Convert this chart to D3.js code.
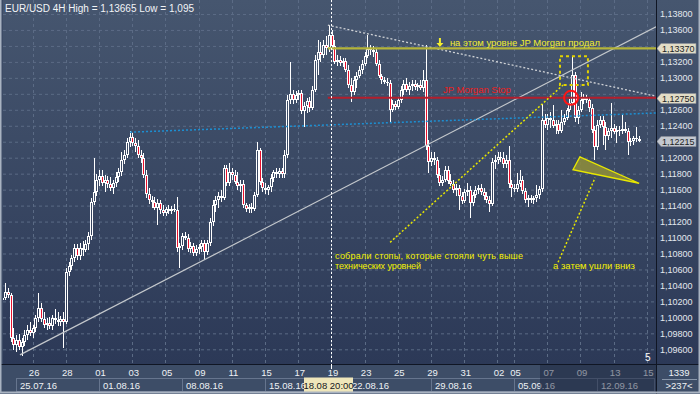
<!DOCTYPE html>
<html>
<head>
<meta charset="utf-8">
<script src="https://cdn.jsdelivr.net/npm/d3@7"></script>
<style>
body { margin: 0; background: #3a4862; }
svg { display: block; font-family: "Liberation Sans", Arial, sans-serif; }
</style>
</head>
<body>
<svg id="chart"></svg>
<script>
var svg_width = 700;
var svg_height = 394;
var plotLeft = 3, plotRight = 656, plotBottom = 364;

// EUR/USD 4H bars, Fri 22.07.16 00:00 .. Wed 14.09.16 08:00, [open, high, low, close]
var bars = [
  [1.1022,1.1027,1.1014,1.1024],[1.1024,1.1043,1.1022,1.1032],[1.1032,1.1037,1.1024,1.1028],[1.1028,1.1030,1.0969,1.0974],[1.0974,1.0987,1.0959,1.0965],[1.0965,1.0978,1.0957,1.0972],
  [1.0972,1.0979,1.0959,1.0963],[1.0963,1.0974,1.0952,1.0969],[1.0969,1.0984,1.0964,1.0978],[1.0978,1.0990,1.0972,1.0984],[1.0984,1.0994,1.0977,1.0980],[1.0980,1.0990,1.0974,1.0987],
  [1.0987,1.1003,1.0982,1.0999],[1.0999,1.1030,1.0994,1.1012],[1.1012,1.1018,1.0994,1.0998],[1.0998,1.1007,1.0987,1.0990],[1.0990,1.0999,1.0984,1.0993],[1.0993,1.1000,1.0985,1.0989],
  [1.0989,1.1003,1.0984,1.0999],[1.0999,1.1010,1.0992,1.0997],[1.0997,1.1007,1.0989,1.0994],[1.0994,1.1002,1.0989,1.0998],[1.0998,1.1007,1.0962,1.0994],[1.0994,1.1062,1.0992,1.1057],
  [1.1057,1.1069,1.1052,1.1064],[1.1064,1.1078,1.1059,1.1074],[1.1074,1.1092,1.1069,1.1087],[1.1087,1.1092,1.1072,1.1077],[1.1077,1.1093,1.1072,1.1087],[1.1087,1.1096,1.1077,1.1084],
  [1.1084,1.1097,1.1082,1.1092],[1.1092,1.1107,1.1084,1.1102],[1.1102,1.1149,1.1097,1.1144],[1.1144,1.1200,1.1141,1.1157],[1.1157,1.1180,1.1152,1.1172],[1.1172,1.1185,1.1165,1.1177],
  [1.1177,1.1185,1.1165,1.1168],[1.1168,1.1178,1.1157,1.1172],[1.1172,1.1177,1.1162,1.1167],[1.1167,1.1176,1.1158,1.1162],[1.1162,1.1172,1.1154,1.1168],[1.1168,1.1182,1.1163,1.1176],
  [1.1176,1.1187,1.1170,1.1182],[1.1182,1.1207,1.1177,1.1197],[1.1197,1.1210,1.1192,1.1203],[1.1203,1.1225,1.1200,1.1220],[1.1220,1.1233,1.1213,1.1226],[1.1226,1.1231,1.1215,1.1218],
  [1.1218,1.1225,1.1207,1.1215],[1.1215,1.1222,1.1200,1.1203],[1.1203,1.1210,1.1193,1.1200],[1.1200,1.1206,1.1175,1.1178],[1.1178,1.1185,1.1149,1.1154],[1.1154,1.1162,1.1142,1.1147],
  [1.1147,1.1152,1.1137,1.1144],[1.1144,1.1151,1.1134,1.1137],[1.1137,1.1148,1.1116,1.1143],[1.1143,1.1147,1.1129,1.1134],[1.1134,1.1141,1.1127,1.1131],[1.1131,1.1138,1.1127,1.1136],
  [1.1136,1.1141,1.1129,1.1133],[1.1133,1.1139,1.1129,1.1136],[1.1136,1.1142,1.1132,1.1134],[1.1134,1.1151,1.1082,1.1087],[1.1087,1.1093,1.1062,1.1089],[1.1089,1.1106,1.1084,1.1102],
  [1.1102,1.1107,1.1097,1.1099],[1.1099,1.1104,1.1082,1.1086],[1.1086,1.1094,1.1081,1.1089],[1.1089,1.1093,1.1077,1.1081],[1.1081,1.1091,1.1077,1.1086],[1.1086,1.1092,1.1079,1.1088],
  [1.1088,1.1097,1.1082,1.1093],[1.1093,1.1097,1.1072,1.1082],[1.1082,1.1097,1.1078,1.1093],[1.1093,1.1124,1.1089,1.1119],[1.1119,1.1147,1.1114,1.1141],[1.1141,1.1152,1.1132,1.1147],
  [1.1147,1.1157,1.1137,1.1152],[1.1152,1.1159,1.1144,1.1149],[1.1149,1.1191,1.1147,1.1187],[1.1187,1.1191,1.1165,1.1168],[1.1168,1.1193,1.1165,1.1182],[1.1182,1.1187,1.1172,1.1178],
  [1.1178,1.1185,1.1167,1.1170],[1.1170,1.1182,1.1159,1.1165],[1.1165,1.1172,1.1157,1.1167],[1.1167,1.1172,1.1137,1.1141],[1.1141,1.1143,1.1132,1.1136],[1.1136,1.1142,1.1131,1.1138],
  [1.1138,1.1143,1.1131,1.1136],[1.1136,1.1157,1.1133,1.1153],[1.1153,1.1220,1.1151,1.1210],[1.1210,1.1212,1.1166,1.1170],[1.1170,1.1175,1.1157,1.1162],[1.1162,1.1168,1.1154,1.1159],
  [1.1159,1.1166,1.1153,1.1163],[1.1163,1.1180,1.1157,1.1175],[1.1175,1.1185,1.1170,1.1182],[1.1182,1.1187,1.1175,1.1180],[1.1180,1.1187,1.1175,1.1183],[1.1183,1.1187,1.1175,1.1180],
  [1.1180,1.1210,1.1175,1.1203],[1.1203,1.1278,1.1200,1.1272],[1.1272,1.1320,1.1267,1.1280],[1.1280,1.1285,1.1267,1.1272],[1.1272,1.1284,1.1268,1.1278],[1.1278,1.1285,1.1272,1.1281],
  [1.1281,1.1285,1.1255,1.1258],[1.1258,1.1270,1.1238,1.1265],[1.1265,1.1275,1.1256,1.1271],[1.1271,1.1276,1.1257,1.1262],[1.1262,1.1290,1.1260,1.1285],[1.1285,1.1329,1.1282,1.1322],
  [1.1322,1.1347,1.1304,1.1332],[1.1332,1.1345,1.1320,1.1329],[1.1329,1.1347,1.1325,1.1341],[1.1341,1.1352,1.1329,1.1337],[1.1337,1.1366,1.1332,1.1354],[1.1354,1.1360,1.1335,1.1340],
  [1.1340,1.1347,1.1317,1.1320],[1.1320,1.1329,1.1315,1.1322],[1.1322,1.1327,1.1315,1.1319],[1.1319,1.1325,1.1314,1.1321],[1.1321,1.1325,1.1307,1.1310],[1.1310,1.1316,1.1287,1.1291],
  [1.1291,1.1300,1.1270,1.1282],[1.1282,1.1302,1.1278,1.1297],[1.1297,1.1307,1.1287,1.1302],[1.1302,1.1315,1.1300,1.1310],[1.1310,1.1322,1.1305,1.1317],[1.1317,1.1332,1.1315,1.1327],
  [1.1327,1.1354,1.1325,1.1336],[1.1336,1.1341,1.1329,1.1335],[1.1335,1.1340,1.1326,1.1332],[1.1332,1.1337,1.1315,1.1317],[1.1317,1.1322,1.1300,1.1302],[1.1302,1.1305,1.1292,1.1297],
  [1.1297,1.1301,1.1292,1.1295],[1.1295,1.1300,1.1290,1.1294],[1.1294,1.1297,1.1245,1.1260],[1.1260,1.1272,1.1257,1.1267],[1.1267,1.1271,1.1260,1.1263],[1.1263,1.1276,1.1261,1.1272],
  [1.1272,1.1290,1.1268,1.1285],[1.1285,1.1297,1.1278,1.1292],[1.1292,1.1300,1.1282,1.1285],[1.1285,1.1295,1.1278,1.1290],[1.1290,1.1297,1.1284,1.1292],[1.1292,1.1297,1.1285,1.1289],
  [1.1289,1.1294,1.1284,1.1291],[1.1291,1.1297,1.1285,1.1287],[1.1287,1.1310,1.1282,1.1297],[1.1297,1.1341,1.1210,1.1215],[1.1215,1.1222,1.1181,1.1195],[1.1195,1.1207,1.1190,1.1200],
  [1.1200,1.1207,1.1191,1.1197],[1.1197,1.1201,1.1175,1.1178],[1.1178,1.1187,1.1165,1.1168],[1.1168,1.1177,1.1165,1.1172],[1.1172,1.1190,1.1170,1.1185],[1.1185,1.1190,1.1167,1.1171],
  [1.1171,1.1180,1.1165,1.1167],[1.1167,1.1172,1.1156,1.1159],[1.1159,1.1167,1.1152,1.1162],[1.1162,1.1166,1.1134,1.1152],[1.1152,1.1157,1.1142,1.1146],[1.1146,1.1161,1.1143,1.1157],
  [1.1157,1.1168,1.1152,1.1159],[1.1159,1.1165,1.1124,1.1143],[1.1143,1.1157,1.1139,1.1153],[1.1153,1.1165,1.1149,1.1159],[1.1159,1.1166,1.1154,1.1162],[1.1162,1.1167,1.1153,1.1157],
  [1.1157,1.1162,1.1147,1.1152],[1.1152,1.1157,1.1143,1.1147],[1.1147,1.1152,1.1132,1.1142],[1.1142,1.1200,1.1139,1.1195],[1.1195,1.1203,1.1186,1.1197],[1.1197,1.1207,1.1192,1.1201],
  [1.1201,1.1207,1.1195,1.1200],[1.1200,1.1207,1.1187,1.1192],[1.1192,1.1203,1.1187,1.1197],[1.1197,1.1215,1.1162,1.1167],[1.1167,1.1172,1.1151,1.1162],[1.1162,1.1167,1.1157,1.1161],
  [1.1161,1.1181,1.1157,1.1167],[1.1167,1.1185,1.1163,1.1172],[1.1172,1.1177,1.1154,1.1158],[1.1158,1.1162,1.1143,1.1147],[1.1147,1.1153,1.1138,1.1149],[1.1149,1.1153,1.1143,1.1147],
  [1.1147,1.1152,1.1142,1.1149],[1.1149,1.1166,1.1144,1.1153],[1.1153,1.1165,1.1148,1.1161],[1.1161,1.1267,1.1157,1.1247],[1.1247,1.1255,1.1237,1.1241],[1.1241,1.1255,1.1235,1.1250],
  [1.1250,1.1257,1.1237,1.1247],[1.1247,1.1266,1.1237,1.1240],[1.1240,1.1247,1.1230,1.1242],[1.1242,1.1247,1.1230,1.1233],[1.1233,1.1260,1.1231,1.1245],[1.1245,1.1255,1.1241,1.1250],
  [1.1250,1.1262,1.1247,1.1260],[1.1260,1.1273,1.1257,1.1268],[1.1268,1.1327,1.1267,1.1304],[1.1304,1.1307,1.1245,1.1250],[1.1250,1.1265,1.1242,1.1260],[1.1260,1.1282,1.1257,1.1272],
  [1.1272,1.1280,1.1267,1.1275],[1.1275,1.1278,1.1268,1.1272],[1.1272,1.1276,1.1257,1.1262],[1.1262,1.1267,1.1231,1.1235],[1.1235,1.1240,1.1197,1.1213],[1.1213,1.1247,1.1210,1.1241],
  [1.1241,1.1252,1.1237,1.1247],[1.1247,1.1252,1.1216,1.1238],[1.1238,1.1245,1.1210,1.1227],[1.1227,1.1237,1.1222,1.1233],[1.1233,1.1268,1.1225,1.1237],[1.1237,1.1242,1.1230,1.1232],
  [1.1232,1.1240,1.1218,1.1235],[1.1235,1.1240,1.1227,1.1233],[1.1233,1.1253,1.1230,1.1236],[1.1236,1.1245,1.1231,1.1233],[1.1233,1.1237,1.1203,1.1220],[1.1220,1.1225,1.1215,1.1221],
  [1.1221,1.1227,1.1216,1.1225],[1.1225,1.1238,1.1220,1.1223],[1.1223,1.1227,1.1220,1.12215]
];

var priceTicks = d3.range(22).map(function(i) { return +(1.138 - i * 0.002).toFixed(3); });

// trading day index (0 = Mon 25.07) -> label
var dayLabels = [[1,"26"],[3,"28"],[5,"01"],[7,"03"],[9,"05"],[11,"09"],[13,"11"],[15,"15"],[17,"17"],[19,"19"],
                 [21,"23"],[23,"25"],[25,"29"],[27,"31"],[29,"02"],[30,"05"],[32,"07"],[34,"09"],[36,"13"],[38,"15"]];
var weekLabels = ["25.07.16","01.08.16","08.08.16","15.08.16","22.08.16","29.08.16","05.09.16","12.09.16"];

// price marks on the right scale
var levelMarks = [
  {price: 1.1337, text: "1,13370", fill: "#e2dcc6"},
  {price: 1.1275, text: "1,12750", fill: "#e2dcc6"},
  {price: 1.12215, text: "1,12215", fill: "#c3c8d0"}
];

// drawn objects, in [bar slot, price]
var upTrend = [[6.7, 1.0953], [236.6, 1.1364]];
var downTrend = [[118, 1.1366], [236.6, 1.1277]];
var blueLine = [[46.5, 1.1232], [236.6, 1.1256]];
var morganSold = {from: 118, to: 236.6, price: 1.1337};
var morganStop = {from: 118, to: 236.6, price: 1.1275};
var pointer1 = [[140.5, 1.1094], [203, 1.1291]];
var pointer2 = [[201.2, 1.1069], [214.6, 1.1175]];
var stopBox = {from: 201.9, to: 212, top: 1.1327, bottom: 1.1291};
var stopCircle = {slot: 205.9, price: 1.1275};
var downTriangle = [[209.1, 1.1201], [206.6, 1.1185], [230.5, 1.1168]];
var crossBar = 119;

// SCALES
var barStep = 16.6 / 6;
var xScale = d3.scaleLinear().domain([0, 240]).range([1.4, 1.4 + 240 * barStep]);
var yScale = d3.scaleLinear().domain([1.096, 1.138]).range([349.3, 14]);
function daySlot(d) { return 6 + d * 6; }

// tick labels hidden behind the level marks
var labelTicks = priceTicks.filter(function(t) {
  return levelMarks.every(function(m) { return Math.abs(yScale(t) - yScale(m.price)) > 8; });
});

var svg = d3.select("#chart").attr("width", svg_width).attr("height", svg_height);
var defs = svg.append("defs");
var grad = defs.append("linearGradient").attr("id", "bg")
    .attr("gradientUnits", "userSpaceOnUse")
    .attr("x1", 0).attr("y1", 0).attr("x2", 0).attr("y2", plotBottom);
grad.append("stop").attr("offset", "0").attr("stop-color", "#46566f");
grad.append("stop").attr("offset", "1").attr("stop-color", "#2c3957");
defs.append("clipPath").attr("id", "clip")
  .append("rect").attr("x", plotLeft).attr("y", 0).attr("width", plotRight - plotLeft).attr("height", plotBottom);

// backgrounds
svg.append("rect").attr("x", 0).attr("y", 0).attr("width", svg_width).attr("height", svg_height).attr("fill", "#3c4b66");
svg.append("rect").attr("x", plotLeft).attr("y", 0).attr("width", svg_width - plotLeft).attr("height", plotBottom).attr("fill", "url(#bg)");

// GRID
svg.append("g")
    .attr("transform", "translate(" + plotLeft + ",0)")
    .call(d3.axisRight(yScale).tickValues(priceTicks).tickSize(plotRight - plotLeft).tickFormat(""))
    .call(function(g) { g.select(".domain").remove(); })
    .selectAll("line").attr("stroke", "#5b6b85").attr("stroke-dasharray", "3,3");
svg.append("g")
  .selectAll("line").data(dayLabels).enter().append("line")
    .attr("x1", function(d) { return Math.round(xScale(daySlot(d[0]))) - 1.5; })
    .attr("x2", function(d) { return Math.round(xScale(daySlot(d[0]))) - 1.5; })
    .attr("y1", 0).attr("y2", plotBottom)
    .attr("stroke", "#5b6b85").attr("stroke-dasharray", "3,3");

// CANDLES
var cg = svg.append("g").attr("clip-path", "url(#clip)");
var candle = cg.selectAll("g").data(bars).enter().append("g");
function cx(i) { return Math.floor(xScale(i + 0.5)); }
function bodyTop(d) { return Math.round(yScale(Math.max(d[0], d[3]))); }
function bodyBot(d) { return Math.round(yScale(Math.min(d[0], d[3]))); }
candle.append("rect")
    .attr("x", function(d, i) { return cx(i); })
    .attr("y", function(d) { return Math.round(yScale(d[1])); })
    .attr("width", 1)
    .attr("height", function(d) { return Math.max(1, Math.round(yScale(d[2])) - Math.round(yScale(d[1]))); })
    .attr("fill", "#ffffff");
candle.append("rect")
    .attr("x", function(d, i) { return cx(i) - 1; })
    .attr("y", bodyTop)
    .attr("width", 3)
    .attr("height", function(d) { return Math.max(1, bodyBot(d) - bodyTop(d)); })
    .attr("fill", "#ffffff");
candle.filter(function(d) { return bodyBot(d) - bodyTop(d) > 2; })
  .append("rect")
    .attr("x", function(d) { return cx(bars.indexOf(d)); })
    .attr("y", function(d) { return bodyTop(d) + 1; })
    .attr("width", 1)
    .attr("height", function(d) { return bodyBot(d) - bodyTop(d) - 2; })
    .attr("fill", function(d) { return d[3] >= d[0] ? "url(#bg)" : "#e8112d"; });

// DRAWN OBJECTS
var line = d3.line().x(function(p) { return xScale(p[0]); }).y(function(p) { return yScale(p[1]); });
var og = svg.append("g").attr("clip-path", "url(#clip)");
og.append("path").attr("d", line(upTrend)).attr("stroke", "#c4c8cc").attr("stroke-width", 1.2).attr("fill", "none");
og.append("path").attr("d", line(downTrend)).attr("stroke", "#cfd2d6").attr("stroke-width", 1.3)
    .attr("stroke-dasharray", "2,2").attr("fill", "none");
og.append("path").attr("d", line(blueLine)).attr("stroke", "#1c8fd2").attr("stroke-width", 1.5)
    .attr("stroke-dasharray", "2,2").attr("fill", "none");
og.append("path").attr("d", line([[morganSold.from, morganSold.price], [morganSold.to, morganSold.price]]))
    .attr("stroke", "#b4b43a").attr("stroke-width", 2.2).attr("fill", "none");
og.append("path").attr("d", line([[morganStop.from, morganStop.price], [morganStop.to, morganStop.price]]))
    .attr("stroke", "#b41e2c").attr("stroke-width", 2).attr("fill", "none");
og.append("path").attr("d", line(pointer1)).attr("stroke", "#e6e600").attr("stroke-width", 1.5)
    .attr("stroke-dasharray", "2,2").attr("fill", "none");
og.append("path").attr("d", line(pointer2)).attr("stroke", "#e6e600").attr("stroke-width", 1.5)
    .attr("stroke-dasharray", "2,2").attr("fill", "none");
og.append("rect")
    .attr("x", xScale(stopBox.from)).attr("y", yScale(stopBox.top))
    .attr("width", xScale(stopBox.to) - xScale(stopBox.from))
    .attr("height", yScale(stopBox.bottom) - yScale(stopBox.top))
    .attr("fill", "none").attr("stroke", "#e2d200").attr("stroke-width", 2).attr("stroke-dasharray", "3,3");
og.append("circle")
    .attr("cx", xScale(stopCircle.slot)).attr("cy", yScale(stopCircle.price)).attr("r", 7)
    .attr("fill", "none").attr("stroke", "#ff1414").attr("stroke-width", 2);
og.append("path").attr("d", line(downTriangle) + "Z")
    .attr("fill", "#8c8b3c").attr("fill-opacity", 0.9).attr("stroke", "#e8e800").attr("stroke-width", 1.3);

// crosshair
og.append("line")
    .attr("x1", Math.round(xScale(crossBar + 0.5)) - 0.5).attr("x2", Math.round(xScale(crossBar + 0.5)) - 0.5)
    .attr("y1", 0).attr("y2", plotBottom)
    .attr("stroke", "#ffffff").attr("stroke-dasharray", "2,2");

// ANNOTATION TEXTS
var ag = svg.append("g").style("font-size", "9.5px");
var ax = xScale(158.5), ay = yScale(1.1350);
ag.append("path")
    .attr("d", "M" + (ax - 1) + "," + ay + "h2v5h2.5l-3.5,4l-3.5,-4h2.5z")
    .attr("fill", "#f2ee30");
ag.append("text").attr("x", xScale(162.1)).attr("y", yScale(1.1340)).attr("fill", "#f2ee30")
    .text("на этом уровне JP Morgan продал");
ag.append("text").attr("x", xScale(159.6)).attr("y", yScale(1.1281)).attr("fill", "#ee2020")
    .text("JP Morgan Stop");
ag.append("text").attr("x", xScale(120.6)).attr("y", yScale(1.1073)).attr("fill", "#f5f200")
    .style("font-size", "9px").attr("textLength", 188).attr("lengthAdjust", "spacing")
    .text("собрали стопы, которые стояли чуть выше");
ag.append("text").attr("x", xScale(120.6)).attr("y", yScale(1.1060)).attr("fill", "#f5f200")
    .style("font-size", "9px").attr("textLength", 86).attr("lengthAdjust", "spacing")
    .text("технических уровней");
ag.append("text").attr("x", xScale(199.4)).attr("y", yScale(1.1060)).attr("fill", "#f5f200")
    .text("а затем ушли вниз");

// TITLE
svg.append("text").attr("x", 5).attr("y", 11.5).attr("fill", "#f2f4f7").style("font-size", "10px")
    .text("EUR/USD 4H High = 1,13665 Low = 1,095");
svg.append("text").attr("x", 645).attr("y", 361).attr("fill", "#ffffff").style("font-size", "10px").text("5");

// RIGHT PRICE AXIS
svg.append("rect").attr("x", plotRight).attr("y", 0).attr("width", svg_width - plotRight).attr("height", plotBottom).attr("fill", "url(#bg)");
svg.append("g")
    .attr("transform", "translate(" + plotRight + ",0)")
    .call(d3.axisRight(yScale).tickValues(labelTicks).tickSize(0).tickPadding(4)
          .tickFormat(function(d) { return d3.format(".5f")(d).replace(".", ","); }))
    .call(function(g) { g.select(".domain").remove(); })
    .selectAll("text").attr("fill", "#e3e8ef").style("font-size", "9px").style("font-family", "Liberation Sans, Arial, sans-serif");

var marks = svg.append("g").selectAll("g").data(levelMarks).enter().append("g")
    .attr("transform", function(d) { return "translate(" + plotRight + "," + Math.round(yScale(d.price)) + ")"; });
marks.append("path").attr("d", "M1,0.5L5,-4.5H40V5.5H5Z").attr("fill", function(d) { return d.fill; })
    .attr("stroke", "#8a8f98").attr("stroke-width", 0.6);
marks.append("text").attr("x", 6).attr("y", 4).attr("fill", "#1b1e24").style("font-size", "9px").text(function(d) { return d.text; });

// BOTTOM TIME AXIS
svg.append("rect").attr("x", 0).attr("y", plotBottom).attr("width", svg_width).attr("height", svg_height - plotBottom).attr("fill", "#3d4d67");
svg.append("line").attr("x1", 0).attr("x2", svg_width).attr("y1", plotBottom + 0.5).attr("y2", plotBottom + 0.5).attr("stroke", "#101624");
svg.append("line").attr("x1", plotRight + 0.5).attr("x2", plotRight + 0.5).attr("y1", 0).attr("y2", svg_height).attr("stroke", "#101624");

svg.append("g")
    .attr("transform", "translate(0," + plotBottom + ")")
    .call(d3.axisBottom(xScale).tickValues(dayLabels.map(function(d) { return daySlot(d[0]); }))
          .tickSize(0).tickPadding(5)
          .tickFormat(function(s, i) { return dayLabels[i][1]; }))
    .call(function(g) { g.select(".domain").remove(); })
    .selectAll("text").attr("fill", "#eef1f5").style("font-size", "9.5px").attr("dx", "-0.1em");

var wk = svg.append("g").selectAll("g").data(weekLabels).enter().append("g");
wk.append("rect")
    .attr("x", function(d, i) { return Math.round(xScale(daySlot(i * 5))) - 1.5; })
    .attr("y", 378.5)
    .attr("width", function(d, i) { return Math.min(xScale(daySlot(i * 5 + 5)), plotRight) - xScale(daySlot(i * 5)); })
    .attr("height", 13)
    .attr("fill", "none").attr("stroke", "#66758e");
wk.append("text")
    .attr("x", function(d, i) { return Math.round(xScale(daySlot(i * 5))) + 2; })
    .attr("y", 388.5).attr("fill", "#eef1f5").style("font-size", "9.5px")
    .text(function(d) { return d; });

// shaded tail of the time scale
svg.append("rect").attr("x", 540).attr("y", plotBottom + 1).attr("width", plotRight - 540).attr("height", 28)
    .attr("fill", "#18223a").attr("fill-opacity", 0.45);

// crosshair time label
var cxl = Math.round(xScale(crossBar + 0.5));
svg.append("line").attr("x1", cxl - 0.5).attr("x2", cxl - 0.5).attr("y1", plotBottom).attr("y2", plotBottom + 5).attr("stroke", "#ffffff");
svg.append("rect").attr("x", cxl - 28).attr("y", 377.5).attr("width", 49).attr("height", 15).attr("fill", "#efe6ba");
svg.append("text").attr("x", cxl - 3.5).attr("y", 388.5).attr("text-anchor", "middle").attr("fill", "#15181e")
    .style("font-size", "9.5px").text("18.08 20:00");

// bar counter
svg.append("text").attr("x", 679).attr("y", 376).attr("text-anchor", "middle").attr("fill", "#eef1f5").style("font-size", "9.5px").text("1339");
svg.append("line").attr("x1", 662).attr("x2", 697).attr("y1", 379.5).attr("y2", 379.5).attr("stroke", "#8896aa");
svg.append("text").attr("x", 679).attr("y", 389).attr("text-anchor", "middle").attr("fill", "#eef1f5").style("font-size", "9.5px").text(">237<");

// frame
svg.append("rect").attr("x", 0.5).attr("y", -1).attr("width", svg_width - 1).attr("height", svg_height - 0.5)
    .attr("fill", "none").attr("stroke", "#a9b3c1").attr("stroke-width", 2);
</script>
</body>
</html>
